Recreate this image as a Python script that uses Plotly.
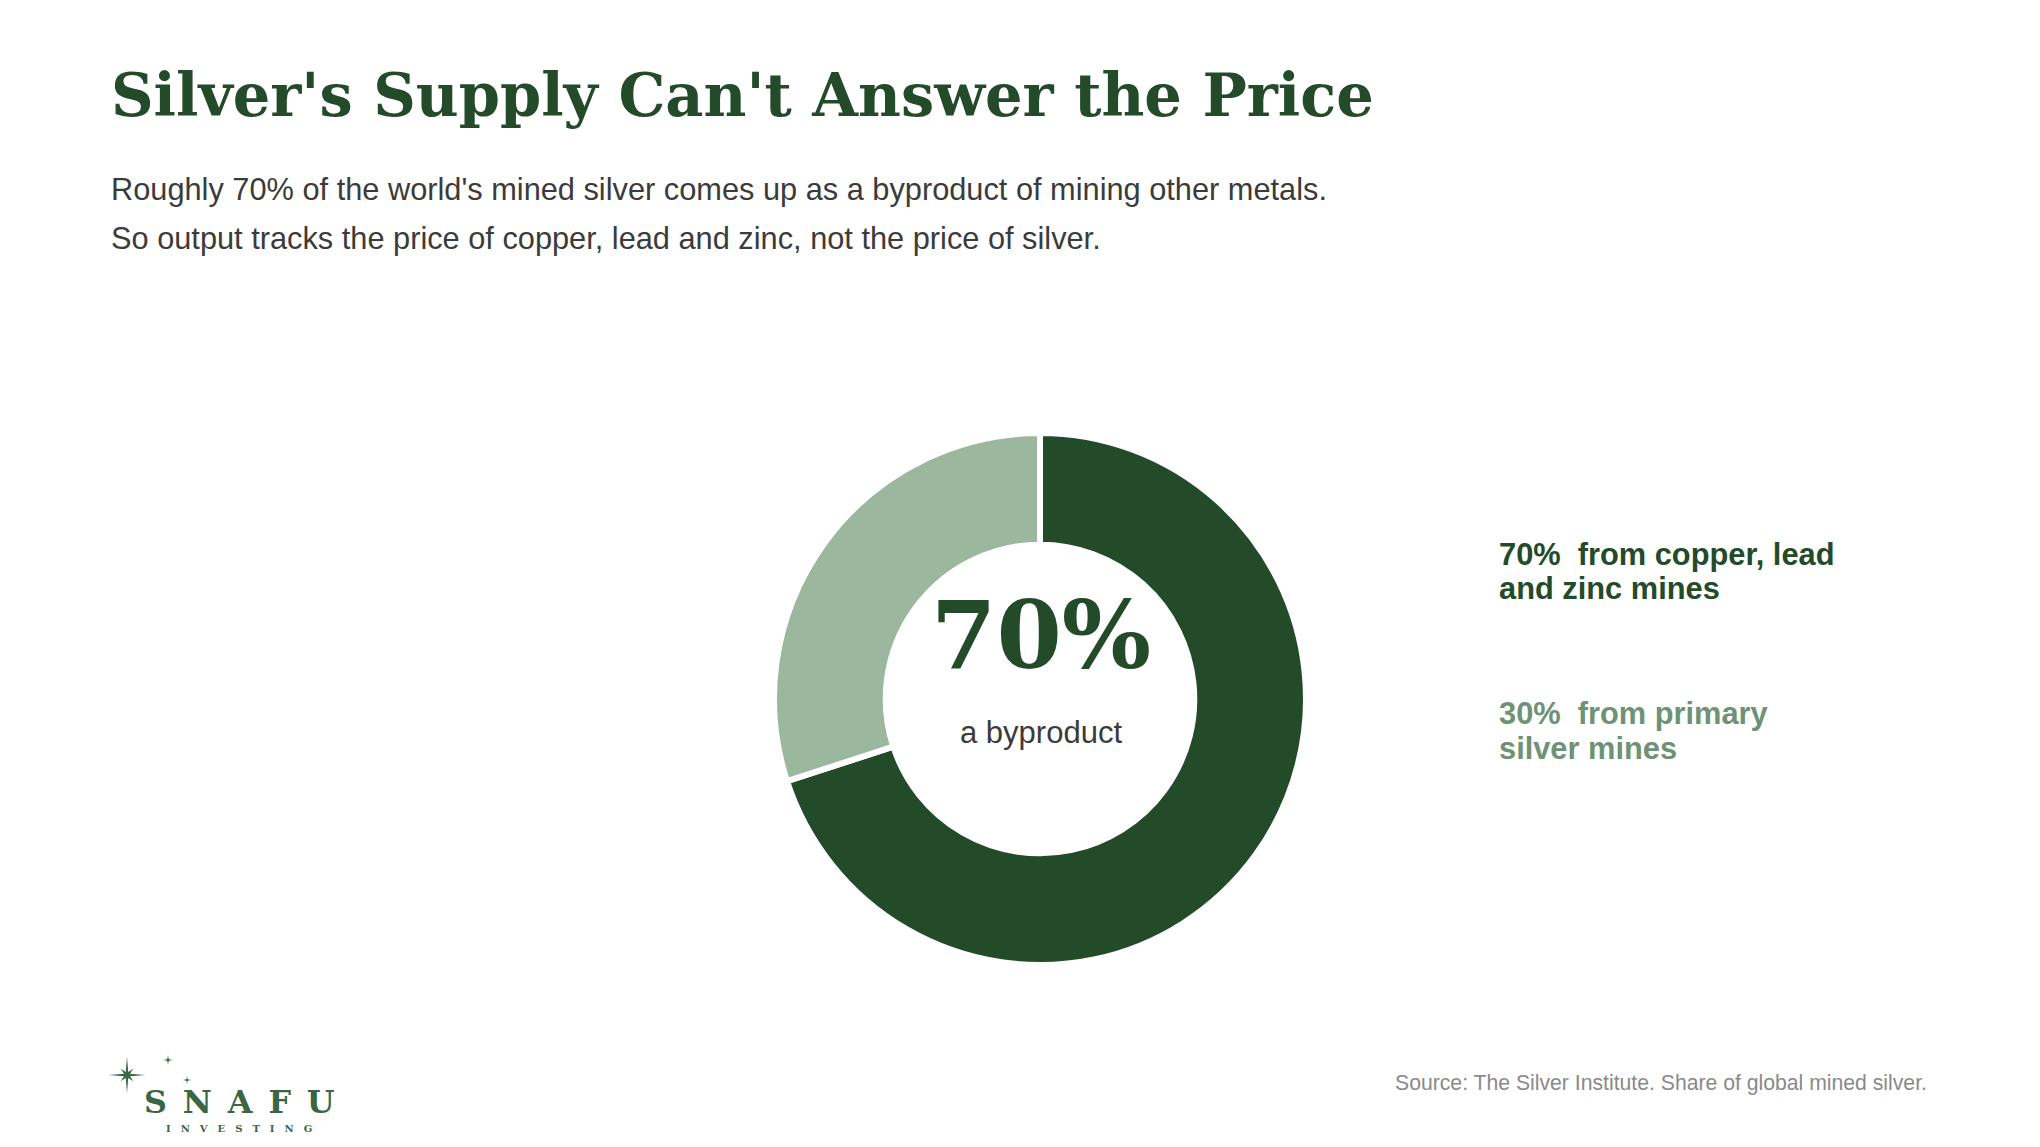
import math
import plotly.graph_objects as go

# page size in px (margins are zero, so paper = pixels)
W, H = 2040, 1147
OFF = 8  # body margin of the html page

# data
labels = ["from copper, lead and zinc mines", "from primary silver mines"]
shares = [70, 30]
colors = ["#234b29", "#9bb89f"]
legend_colors = ["#234b29", "#6e9275"]
legend_lines = [["70%  from copper, lead", "and zinc mines"],
                ["30%  from primary", "silver mines"]]

title = "Silver's Supply Can't Answer the Price"
subtitle = ["Roughly 70% of the world's mined silver comes up as a byproduct of mining other metals.",
            "So output tracks the price of copper, lead and zinc, not the price of silver."]
center_big = "70%"
center_small = "a byproduct"
source = "Source: The Silver Institute. Share of global mined silver."

SERIF = "DejaVu Serif"
SANS = "Liberation Sans, Arial, sans-serif"
LOGO = "#3b6644"


def px(x, y):
    return (x - OFF) / W, 1 - (y - OFF) / H


# donut geometry (page px)
cx, cy, R = 1040, 699, 266

fig = go.Figure()
x0, y0 = px(cx - R, cy + R)
x1, y1 = px(cx + R, cy - R)
fig.add_trace(go.Pie(
    labels=labels, values=shares, hole=0.58, sort=False, direction="clockwise",
    rotation=0, marker=dict(colors=colors, line=dict(color="white", width=6)),
    textinfo="none", hoverinfo="label+percent", showlegend=False,
    domain=dict(x=[x0, x1], y=[y0, y1]),
))

ann = []


def text(x, baseline, s, size, color, family=SANS, anchor="left", bold=False):
    xp, yp = px(x, baseline - 0.35 * size)
    ann.append(dict(x=xp, y=yp, xref="paper", yref="paper", text=s, showarrow=False,
                    xanchor=anchor, yanchor="middle",
                    font=dict(size=size, color=color, family=family,
                              weight="bold" if bold else "normal")))


text(109, 116, title, 59, "#234b29", SERIF, bold=True)
text(109, 200, subtitle[0], 30.75, "#3b3b3b")
text(109, 249, subtitle[1], 30.75, "#3b3b3b")

text(1041, 668, center_big, 94, "#234b29", SERIF, anchor="center", bold=True)
text(1041, 743, center_small, 31, "#3b3b3b", anchor="center")

baselines = [[565, 599], [724, 759]]
for lines, bl, col in zip(legend_lines, baselines, legend_colors):
    for s, b in zip(lines, bl):
        text(1497, b, s, 30.8, col, bold=True)

text(1929, 1090, source, 21.2, "#8a8a8a", anchor="right")

# logo wordmark
text(142, 1113, "S\u2002N\u2002A\u2002F\u2002U", 31.8, LOGO, SERIF, bold=True)
text(164, 1132, "I\u2003N\u2003V\u2003E\u2003S\u2003T\u2003I\u2003N\u2003G", 10, LOGO, SERIF, bold=True)


# logo stars: 8-ray sparkles drawn as paths in page pixels
def star(sx, sy, rl, rs, ri):
    pts = []
    for k in range(16):
        ang = k * math.pi / 8
        r = [rl, ri, rs, ri][k % 4]
        pts.append((sx + r * math.sin(ang), sy - r * math.cos(ang)))
    d = "M " + " L ".join(f"{(x - OFF):.2f},{(y - OFF):.2f}" for x, y in pts) + " Z"
    return dict(type="path", path=d, xref="x", yref="y", fillcolor=LOGO, line=dict(width=0))


shapes = [star(127, 1075, 18.5, 9, 3.2), star(168, 1060, 5.5, 2.2, 1.3), star(187, 1080, 4.5, 1.8, 1.1)]

fig.update_layout(
    width=W, height=H, margin=dict(l=0, r=0, t=0, b=0),
    paper_bgcolor="white", plot_bgcolor="rgba(0,0,0,0)",
    xaxis=dict(range=[0, W], visible=False, fixedrange=True, domain=[0, 1]),
    yaxis=dict(range=[H, 0], visible=False, fixedrange=True, domain=[0, 1]),
    annotations=ann, shapes=shapes,
)

fig.write_html("out.html")
